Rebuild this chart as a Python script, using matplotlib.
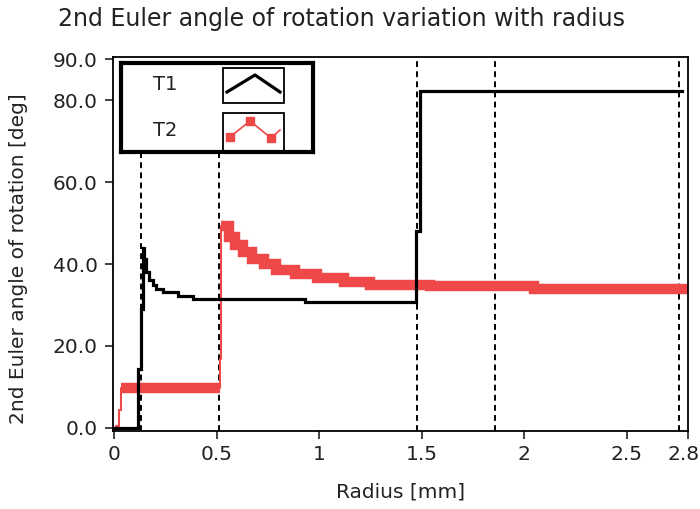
import matplotlib
matplotlib.use("Agg")
import matplotlib.pyplot as plt
import matplotlib.transforms as mtransforms
from matplotlib.patches import Rectangle

# ---------------- data ----------------
# T1: step series (radius [mm], angle [deg])
t1_r = [0.0, 0.115, 0.131, 0.141, 0.144, 0.156, 0.170, 0.190, 0.205, 0.240,
        0.310, 0.385, 0.930, 1.472, 1.490, 2.770]
t1_v = [0.0, 14.3, 29.0, 43.9, 41.3, 38.1, 36.0, 34.8, 33.8, 33.1,
        32.3, 31.5, 30.8, 48.0, 82.3, 82.3]

# T2: step series (radius [mm], angle [deg])
t2_r = [0.0, 0.010, 0.025, 0.034, 0.515, 0.520, 0.560, 0.590, 0.630, 0.670,
        0.730, 0.790, 0.880, 0.990, 1.120, 1.250, 1.540, 2.050, 2.800]
t2_v = [0.0, 0.5, 4.4, 9.6, 16.7, 49.3, 46.7, 44.6, 43.0, 41.3,
        39.9, 38.6, 37.5, 36.6, 35.6, 34.8, 34.6, 33.8, 33.8]

cursor_r = [0.131, 0.511, 1.479, 1.860, 2.756]

x_ticks = [0, 0.5, 1, 1.5, 2, 2.5, 2.8]
x_ticklabels = ["0", "0.5", "1", "1.5", "2", "2.5", "2.8"]
y_ticks = [0, 20, 40, 60, 80, 90]
y_ticklabels = ["0.0", "20.0", "40.0", "60.0", "80.0", "90.0"]

series_names = ["T1", "T2"]
RED = "#ef4848"
TXT = "#222222"

# ---------------- figure ----------------
fig = plt.figure(figsize=(7.0, 5.09), dpi=100)
ax = fig.add_axes([113/700, 1-431/509, (688-113)/700, (431-57)/509])

# cursors
for c in cursor_r:
    ax.axvline(c, color="black", lw=1.4, dashes=(3.0, 2.2), zorder=1)

# T2: thin connecting steps + thick marker band on the level parts
ax.step(t2_r, t2_v, where="post", color=RED, lw=1.5, zorder=2)
ax.hlines(t2_v[3], t2_r[3], t2_r[4], color=RED, lw=7.5, zorder=2)
ax.step(t2_r[5:], t2_v[5:], where="post", color=RED, lw=7.5, zorder=2,
        solid_capstyle="butt", solid_joinstyle="miter")

# T1
ax.step(t1_r, t1_v, where="post", color="black", lw=2.3, zorder=3,
        solid_joinstyle="miter")

ax.set_xlim(-0.006, 2.8)
ax.set_ylim(-0.8, 90.6)
ax.set_xticks(x_ticks)
ax.set_xticklabels(x_ticklabels)
ax.set_yticks(y_ticks)
ax.set_yticklabels(y_ticklabels)
ax.tick_params(direction="out", length=6, width=1.2, labelsize=14.5, pad=4,
               colors=TXT)
ax.tick_params(axis="y", pad=5)
for s in ax.spines.values():
    s.set_linewidth(1.3)
# keep the last x tick label inside the canvas
last = ax.get_xticklabels()[-1]
last.set_transform(last.get_transform() +
                   mtransforms.ScaledTranslation(-4/100, 0, fig.dpi_scale_trans))

ax.set_xlabel("Radius [mm]", fontsize=14.5, color=TXT)
ax.set_ylabel("2nd Euler angle of rotation [deg]", fontsize=14.5, color=TXT)
ax.xaxis.set_label_coords(0.5, -0.138)
ax.yaxis.set_label_coords(-0.148, 0.46)

fig.text(341/700, 1-19/509, "2nd Euler angle of rotation variation with radius",
         ha="center", va="center", fontsize=17, color=TXT)

# ---------------- legend (LabVIEW-style plot legend) ----------------
lg = fig.add_axes([121/700, 1-152/509, (313-121)/700, (152-63)/509])
lg.set_xlim(0, 192)
lg.set_ylim(89, 0)
lg.set_xticks([])
lg.set_yticks([])
for s in lg.spines.values():
    s.set_linewidth(3.0)
lg.add_patch(Rectangle((102, 5), 61, 35, fill=False, lw=1.3, ec="black"))
lg.add_patch(Rectangle((102, 50), 61, 39, fill=False, lw=1.3, ec="black"))
lg.text(44, 22, series_names[0], ha="center", va="center", fontsize=14, color=TXT)
lg.text(44, 68, series_names[1], ha="center", va="center", fontsize=14, color=TXT)
lg.plot([106, 134, 159], [29, 12, 29], color="black", lw=2.3)
lg.plot([109, 129, 150, 159], [74, 58, 75, 67], color=RED, lw=1.2)
lg.plot([109, 129, 150], [74, 58, 75], ls="none", marker="s", ms=6, color=RED)

fig.savefig("out.png", dpi=100)
